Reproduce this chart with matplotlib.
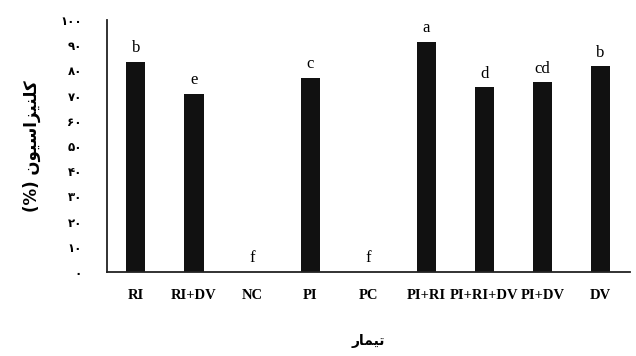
import matplotlib
matplotlib.use("Agg")
import matplotlib.pyplot as plt

treatments = ["RI", "RI+DV", "NC", "PI", "PC", "PI+RI", "PI+RI+DV", "PI+DV", "DV"]
colonization = [83.3, 70.6, 0, 77.0, 0, 91.4, 73.3, 75.3, 81.7]
letters = ["b", "e", "f", "c", "f", "a", "d", "cd", "b"]
yticks = [0, 10, 20, 30, 40, 50, 60, 70, 80, 90, 100]
ylabel = "کلنیزاسیون (%)"
xlabel = "تیمار"

# matplotlib does no arabic shaping, so pick the contextual forms by hand
FORMS = {
    "ا": ("\uFE8D", "\uFE8E", None, None),
    "ت": ("\uFE95", "\uFE96", "\uFE97", "\uFE98"),
    "ر": ("\uFEAD", "\uFEAE", None, None),
    "ز": ("\uFEAF", "\uFEB0", None, None),
    "س": ("\uFEB1", "\uFEB2", "\uFEB3", "\uFEB4"),
    "ل": ("\uFEDD", "\uFEDE", "\uFEDF", "\uFEE0"),
    "م": ("\uFEE1", "\uFEE2", "\uFEE3", "\uFEE4"),
    "ن": ("\uFEE5", "\uFEE6", "\uFEE7", "\uFEE8"),
    "و": ("\uFEED", "\uFEEE", None, None),
    "ک": ("\uFB8E", "\uFB8F", "\uFB90", "\uFB91"),
    "ی": ("\uFBFC", "\uFBFD", "\uFBFE", "\uFBFF"),
}
MIRROR = {"(": ")", ")": "("}


def rtl(text):
    out = []
    for i, ch in enumerate(text):
        if ch not in FORMS:
            out.append(MIRROR.get(ch, ch))
            continue
        prev = text[i - 1] if i > 0 else ""
        nxt = text[i + 1] if i + 1 < len(text) else ""
        join_prev = prev in FORMS and FORMS[prev][2] is not None
        join_next = nxt in FORMS and FORMS[ch][2] is not None
        iso, fin, ini, med = FORMS[ch]
        if join_prev and join_next:
            out.append(med)
        elif join_prev:
            out.append(fin)
        elif join_next:
            out.append(ini)
        else:
            out.append(iso)
    return "".join(out[::-1])


def fa_digits(n):
    return "".join(chr(0x06F0 + int(d)) for d in str(n))


fig = plt.figure(figsize=(6.36, 3.56), dpi=100)
ax = fig.add_axes([0.168, 0.236, 0.822, 0.708])

x = range(len(treatments))
ax.bar(x, colonization, width=0.33, color="#111111")
for i, (v, lab) in enumerate(zip(colonization, letters)):
    ax.annotate(lab, (i, v), xytext=(0, 4), textcoords="offset points",
                ha="center", va="bottom", fontsize=12, family="Liberation Serif")

ax.set_xlim(-0.5, 8.5)
ax.set_ylim(0, 100)
ax.set_yticks(yticks)
ax.set_yticklabels([fa_digits(t) for t in yticks], family="DejaVu Sans",
                   fontweight="bold", fontsize=8.5)
ax.set_xticks(list(x))
ax.set_xticklabels(treatments, family="Liberation Serif", fontweight="bold", fontsize=10.5)
ax.tick_params(axis="y", length=0, pad=18)
ax.tick_params(axis="x", length=0, pad=12)

ax.spines["top"].set_visible(False)
ax.spines["right"].set_visible(False)
for s in ("left", "bottom"):
    ax.spines[s].set_linewidth(1.3)
    ax.spines[s].set_color("#222222")

ax.set_ylabel(rtl(ylabel), family="DejaVu Sans", fontweight="bold", fontsize=12, labelpad=14)
ax.set_xlabel(rtl(xlabel), family="DejaVu Sans", fontweight="bold", fontsize=10, labelpad=23)

fig.savefig("out.png", dpi=100)
